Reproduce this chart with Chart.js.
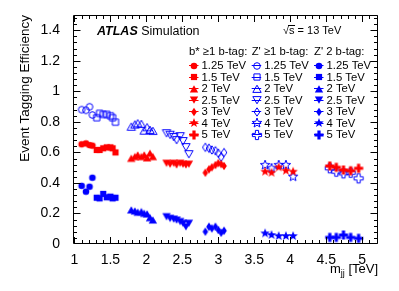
<!DOCTYPE html>
<html>
<head>
<meta charset="utf-8">
<script src="https://cdn.jsdelivr.net/npm/chart.js@4"></script>
<style>
  body { margin: 0; background: #fff; }
  canvas { display: block; }
</style>
</head>
<body>
<canvas id="effChart" width="399" height="291"></canvas>
<script>
// mjj positions of the points for each signal mass
const mjj1250 = [1.10, 1.16, 1.21, 1.25];
const mjj1500 = [1.31, 1.35, 1.40, 1.45, 1.50, 1.53, 1.57];
const mjj2000 = [1.79, 1.84, 1.88, 1.93, 1.97, 2.01, 2.05, 2.09];
const mjj2500 = [2.28, 2.33, 2.38, 2.42, 2.47, 2.51, 2.55, 2.59];
const mjj3000 = [2.82, 2.87, 2.91, 2.96, 3.00, 3.04, 3.08];
const mjj4000 = [3.65, 3.74, 3.84, 3.94, 4.04];
const mjj5000 = [4.55, 4.64, 4.74, 4.84, 4.95];

// b* >=1 b-tag
const bstar1250 = [0.653, 0.659, 0.648, 0.644];
const bstar1500 = [0.616, 0.616, 0.627, 0.633, 0.633, 0.627, 0.600];
const bstar2000 = [0.561, 0.572, 0.583, 0.572, 0.583, 0.564, 0.594, 0.572];
const bstar2500 = [0.529, 0.523, 0.529, 0.518, 0.529, 0.523, 0.518, 0.523];
const bstar3000 = [0.467, 0.489, 0.502, 0.517, 0.529, 0.523, 0.511];
const bstar4000 = [0.474, 0.467, 0.502, 0.480, 0.474];
const bstar5000 = [0.511, 0.502, 0.485, 0.480, 0.496];

// Z' >=1 b-tag
const zp1b1250 = [0.880, 0.876, 0.899, 0.845];
const zp1b1500 = [0.827, 0.856, 0.849, 0.849, 0.840, 0.827, 0.798];
const zp1b2000 = [0.768, 0.782, 0.790, 0.786, 0.742, 0.764, 0.747, 0.740];
const zp1b2500 = [0.726, 0.716, 0.701, 0.681, 0.707, 0.675, 0.635, 0.589];
const zp1b3000 = [0.633, 0.627, 0.616, 0.611, 0.595, 0.569, 0.599];
const zp1b4000 = [0.517, 0.496, 0.517, 0.517, 0.441];
const zp1b5000 = [0.496, 0.474, 0.463, 0.467, 0.430];

// Z' 2 b-tag
const zp2b1250 = [0.381, 0.343, 0.375, 0.434];
const zp2b1500 = [0.303, 0.299, 0.328, 0.306, 0.310, 0.299, 0.303];
const zp2b2000 = [0.223, 0.216, 0.208, 0.212, 0.201, 0.197, 0.172, 0.157];
const zp2b2500 = [0.179, 0.168, 0.163, 0.157, 0.147, 0.136, 0.113, 0.136];
const zp2b3000 = [0.081, 0.113, 0.102, 0.113, 0.092, 0.074, 0.087];
const zp2b4000 = [0.070, 0.059, 0.052, 0.052, 0.052];
const zp2b5000 = [0.043, 0.043, 0.059, 0.043, 0.037];

const massLabels = ['1.25 TeV', '1.5 TeV', '2 TeV', '2.5 TeV', '3 TeV', '4 TeV', '5 TeV'];
const groupLabels = ['b* \u22651 b-tag:', "Z' \u22651 b-tag:", "Z' 2 b-tag:"];
const xTickValues = [1, 1.5, 2, 2.5, 3, 3.5, 4, 4.5, 5];
const yTickValues = [0, 0.2, 0.4, 0.6, 0.8, 1, 1.2, 1.4];

const FONT = '"Liberation Sans", Arial, Helvetica, sans-serif';
const RED = '#ff0000';
const BLUE = '#0000ff';

const mjjList = [mjj1250, mjj1500, mjj2000, mjj2500, mjj3000, mjj4000, mjj5000];
const groups = [
    { color: RED, filled: true, values: [bstar1250, bstar1500, bstar2000, bstar2500, bstar3000, bstar4000, bstar5000] },
    { color: BLUE, filled: false, values: [zp1b1250, zp1b1500, zp1b2000, zp1b2500, zp1b3000, zp1b4000, zp1b5000] },
    { color: BLUE, filled: true, values: [zp2b1250, zp2b1500, zp2b2000, zp2b2500, zp2b3000, zp2b4000, zp2b5000] }
];
const shapes = ['circle', 'square', 'triangle', 'triangleDown', 'diamond', 'star', 'cross'];

// Draw a ROOT-like marker into a small canvas used as pointStyle
function makeMarker(shape, color, filled) {
    const c = document.createElement('canvas');
    c.width = 14;
    c.height = 14;
    const g = c.getContext('2d');
    g.translate(7, 7);
    g.beginPath();
    if (shape === 'circle') {
        g.arc(0, 0, 3.3, 0, Math.PI * 2);
    } else if (shape === 'square') {
        g.rect(-3.1, -3.1, 6.2, 6.2);
    } else if (shape === 'triangle' || shape === 'triangleDown') {
        const s = shape === 'triangle' ? 1 : -1;
        g.moveTo(0, -3.8 * s);
        g.lineTo(4.2, 3.4 * s);
        g.lineTo(-4.2, 3.4 * s);
        g.closePath();
    } else if (shape === 'diamond') {
        g.moveTo(0, -4.2);
        g.lineTo(2.8, 0);
        g.lineTo(0, 4.2);
        g.lineTo(-2.8, 0);
        g.closePath();
    } else if (shape === 'star') {
        for (let i = 0; i < 10; i++) {
            const r = i % 2 === 0 ? 5 : 2.1;
            const a = -Math.PI / 2 + i * Math.PI / 5;
            if (i === 0) g.moveTo(r * Math.cos(a), r * Math.sin(a));
            else g.lineTo(r * Math.cos(a), r * Math.sin(a));
        }
        g.closePath();
    } else if (shape === 'cross') {
        const o = 4.6, t = 1.6;
        const pts = [[-t, -o], [t, -o], [t, -t], [o, -t], [o, t], [t, t], [t, o], [-t, o], [-t, t], [-o, t], [-o, -t], [-t, -t]];
        pts.forEach((p, i) => i === 0 ? g.moveTo(p[0], p[1]) : g.lineTo(p[0], p[1]));
        g.closePath();
    }
    if (filled) {
        g.fillStyle = color;
        g.fill();
    } else {
        g.strokeStyle = color;
        g.lineWidth = 1;
        g.stroke();
    }
    return c;
}

const datasets = [];
groups.forEach((grp, gi) => {
    grp.values.forEach((vals, mi) => {
        datasets.push({
            label: groupLabels[gi] + ' ' + massLabels[mi],
            data: vals.map((v, i) => ({ x: mjjList[mi][i], y: v })),
            pointStyle: makeMarker(shapes[mi], grp.color, grp.filled),
            pointRadius: 3,
            showLine: false,
            groupIndex: gi,
            massIndex: mi
        });
    });
});

// frame, inner ticks, labels and the three-column legend
const decorPlugin = {
    id: 'decor',
    afterDraw(chart) {
        const { ctx, chartArea: a, scales: { x, y } } = chart;
        const L = Math.round(a.left) + 0.5, R = Math.round(a.right) - 0.5;
        const T = Math.round(a.top) + 0.5, B = Math.round(a.bottom) - 0.5;
        ctx.save();
        ctx.strokeStyle = '#000';
        ctx.lineWidth = 1;
        ctx.beginPath();
        ctx.rect(L, T, R - L, B - T);

        // x ticks
        for (let k = 9; k <= 52; k++) {
            const v = k / 10;
            const px = Math.round(x.getPixelForValue(v)) + 0.5;
            if (px < L || px > R) continue;
            const len = k % 5 === 0 ? 6.5 : 3.5;
            ctx.moveTo(px, B); ctx.lineTo(px, B - len);
            ctx.moveTo(px, T); ctx.lineTo(px, T + len);
        }
        // y ticks
        for (let k = 0; k <= 37; k++) {
            const v = k * 0.04;
            const py = Math.round(y.getPixelForValue(v)) + 0.5;
            if (py < T || py > B) continue;
            const len = k % 5 === 0 ? 7 : 3.5;
            ctx.moveTo(L, py); ctx.lineTo(L + len, py);
            ctx.moveTo(R, py); ctx.lineTo(R - len, py);
        }
        ctx.stroke();

        ctx.fillStyle = '#000';
        ctx.textBaseline = 'alphabetic';

        // ATLAS Simulation
        ctx.font = 'italic bold 12.5px ' + FONT;
        ctx.textAlign = 'left';
        ctx.fillText('ATLAS', 97, 35);
        const w = ctx.measureText('ATLAS ').width;
        ctx.font = '12.5px ' + FONT;
        ctx.fillText('Simulation', 97 + w, 35);

        // sqrt(s) = 13 TeV
        ctx.font = '11px ' + FONT;
        ctx.fillText('\u221As = 13 TeV', 283, 34);
        const wr = ctx.measureText('\u221A').width;
        const ws = ctx.measureText('s').width;
        ctx.beginPath();
        ctx.moveTo(283 + wr - 1, 25.5);
        ctx.lineTo(283 + wr + ws + 0.5, 25.5);
        ctx.stroke();

        // axis titles
        ctx.font = '13px ' + FONT;
        ctx.textAlign = 'right';
        const t2 = ' [TeV]';
        const w2 = ctx.measureText(t2).width;
        ctx.fillText(t2, 378, 273);
        ctx.font = '9px ' + FONT;
        const wj = ctx.measureText('jj').width;
        ctx.fillText('jj', 378 - w2, 276);
        ctx.font = '13px ' + FONT;
        ctx.fillText('m', 378 - w2 - wj, 273);

        ctx.save();
        ctx.translate(29, 15);
        ctx.rotate(-Math.PI / 2);
        ctx.textAlign = 'right';
        ctx.font = '13.5px ' + FONT;
        ctx.fillText('Event Tagging Efficiency', 0, 0);
        ctx.restore();

        // legend
        const colX = [189, 251.7, 314];
        ctx.font = '11.3px ' + FONT;
        ctx.textAlign = 'left';
        groupLabels.forEach((lab, gi) => ctx.fillText(lab, colX[gi], 55));
        chart.data.datasets.forEach(ds => {
            const cx = colX[ds.groupIndex];
            const cy = 65 + ds.massIndex * 11.5;
            const col = groups[ds.groupIndex].color;
            ctx.strokeStyle = col;
            ctx.beginPath();
            ctx.moveTo(cx, Math.round(cy) + 0.5);
            ctx.lineTo(cx + 9.5, Math.round(cy) + 0.5);
            ctx.stroke();
            const img = ds.pointStyle;
            ctx.drawImage(img, Math.round(cx + 4.8 - img.width / 2), Math.round(cy - img.height / 2 + 0.5));
            ctx.fillStyle = '#000';
            ctx.fillText(massLabels[ds.massIndex], cx + 12.5, cy + 4);
        });
        ctx.restore();
    }
};

new Chart(document.getElementById('effChart'), {
    type: 'scatter',
    data: { datasets: datasets },
    options: {
        responsive: false,
        animation: false,
        devicePixelRatio: 1,
        layout: { padding: { left: 0, right: 21, top: 15, bottom: 0 } },
        plugins: { legend: { display: false }, tooltip: { enabled: false } },
        scales: {
            x: {
                type: 'linear',
                min: 0.98,
                max: 5.22,
                afterFit: s => { s.height = 47; },
                afterBuildTicks: s => { s.ticks = xTickValues.map(v => ({ value: v })); },
                grid: { display: false },
                border: { display: false },
                ticks: {
                    padding: 0,
                    color: '#000',
                    font: { family: FONT, size: 14 },
                    maxRotation: 0,
                    autoSkip: false,
                    callback: v => String(v)
                }
            },
            y: {
                type: 'linear',
                min: 0,
                max: 1.5,
                afterFit: s => { s.width = 73; },
                afterBuildTicks: s => { s.ticks = yTickValues.map(v => ({ value: v })); },
                grid: { display: false },
                border: { display: false },
                ticks: {
                    padding: 5,
                    color: '#000',
                    font: { family: FONT, size: 14 },
                    autoSkip: false,
                    callback: v => String(Math.round(v * 10) / 10)
                }
            }
        }
    },
    plugins: [decorPlugin]
});
</script>
</body>
</html>
